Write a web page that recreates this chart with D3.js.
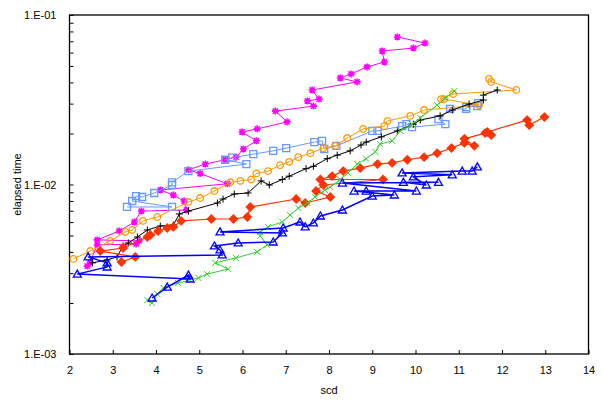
<!DOCTYPE html>
<html>
<head>
<meta charset="utf-8">
<script src="https://cdn.jsdelivr.net/npm/d3@7/dist/d3.min.js"></script>
<style>
    body { margin: 0; background: #fff; }
    text { font-family: Arial, "Liberation Sans", sans-serif; font-size: 11px; fill: #000; }
</style>
</head>
<body>
<svg id="chart" width="603" height="409"></svg>
<script>
// data: scd vs elapsed time, one pair of arrays per series
const magentaScd  = [9.58, 10.22, 9.95, 9.23, 9.28, 8.88, 8.51, 8.26, 8.65, 7.61, 7.77, 7.50, 7.64, 6.76, 7.03, 6.34, 5.99, 6.32, 6.02, 5.85, 5.60, 5.14, 4.75, 5.02, 5.65, 4.10, 4.40, 4.65, 4.70, 3.66, 3.50, 3.15, 2.64, 3.61, 3.54, 2.64, 2.48, 2.41];
const magentaTime = [0.0742, 0.0683, 0.0638, 0.0613, 0.0528, 0.0494, 0.0449, 0.0425, 0.0403, 0.0361, 0.0319, 0.0311, 0.0290, 0.0271, 0.0234, 0.0213, 0.0204, 0.0181, 0.0162, 0.0145, 0.0140, 0.0132, 0.0122, 0.0116, 0.0101, 0.00928, 0.00867, 0.00799, 0.00707, 0.00697, 0.00601, 0.00532, 0.00471, 0.00465, 0.00446, 0.00440, 0.00349, 0.00330];

const lightBlueScd  = [11.45, 11.43, 11.17, 11.17, 10.80, 10.53, 10.69, 9.92, 9.79, 9.69, 9.12, 9.00, 8.17, 7.89, 7.84, 7.66, 7.01, 6.71, 6.25, 5.76, 5.60, 6.09, 4.75, 4.37, 4.37, 3.96, 3.68, 3.54, 3.45, 4.37, 3.33];
const lightBlueTime = [0.0302, 0.0290, 0.0286, 0.0279, 0.0279, 0.0243, 0.0227, 0.0218, 0.0227, 0.0221, 0.0207, 0.0207, 0.0169, 0.0162, 0.0181, 0.0178, 0.0164, 0.0158, 0.0151, 0.0144, 0.0140, 0.0132, 0.0120, 0.0103, 0.00993, 0.00891, 0.00844, 0.00855, 0.00799, 0.00737, 0.00737];

const orangeScd  = [2.09, 2.48, 2.94, 3.29, 3.45, 3.70, 4.03, 4.75, 5.02, 5.35, 5.72, 5.95, 6.20, 6.32, 6.59, 6.87, 7.08, 7.29, 7.57, 7.87, 8.14, 8.42, 8.79, 9.28, 9.35, 9.88, 10.20, 11.47, 10.66, 10.59, 10.87, 12.33, 11.75, 11.70];
const orangeTime = [0.00364, 0.00405, 0.00465, 0.00525, 0.00539, 0.00610, 0.00643, 0.00788, 0.00832, 0.00915, 0.0103, 0.0105, 0.0107, 0.0116, 0.0120, 0.0130, 0.0136, 0.0145, 0.0153, 0.0164, 0.0169, 0.0188, 0.0213, 0.0221, 0.0237, 0.0254, 0.0275, 0.0294, 0.0319, 0.0319, 0.0342, 0.0361, 0.0403, 0.0420];

const blackScd  = [2.53, 2.87, 3.10, 3.24, 3.36, 3.57, 3.80, 4.10, 4.40, 4.54, 4.75, 5.42, 5.55, 5.81, 6.13, 6.43, 6.62, 6.92, 7.08, 7.47, 7.64, 7.96, 8.19, 8.49, 8.74, 8.86, 9.21, 9.58, 9.95, 10.11, 10.57, 10.85, 11.24, 11.57, 11.57, 11.89];
const blackTime = [0.00345, 0.00359, 0.00374, 0.00434, 0.00452, 0.00490, 0.00539, 0.00569, 0.00577, 0.00670, 0.00697, 0.00778, 0.00821, 0.00879, 0.00891, 0.0105, 0.00993, 0.0107, 0.0112, 0.0124, 0.0128, 0.0142, 0.0149, 0.0158, 0.0171, 0.0178, 0.0191, 0.0207, 0.0227, 0.0240, 0.0254, 0.0275, 0.0298, 0.0315, 0.0337, 0.0361];

const redScd  = [3.20, 3.52, 2.71, 3.24, 3.80, 3.87, 4.05, 4.26, 4.40, 4.58, 5.28, 5.79, 6.11, 6.18, 7.24, 7.45, 8.03, 7.70, 7.87, 9.25, 7.80, 8.07, 8.33, 8.72, 9.12, 9.46, 9.81, 10.20, 10.50, 10.83, 11.13, 11.36, 11.13, 11.61, 11.75, 11.66, 12.58, 12.63, 12.98];
const redTime = [0.00349, 0.00374, 0.00405, 0.00422, 0.00490, 0.00504, 0.00532, 0.00554, 0.00562, 0.00610, 0.00626, 0.00626, 0.00643, 0.00737, 0.00821, 0.00778, 0.00844, 0.00915, 0.00993, 0.0107, 0.0107, 0.0112, 0.0120, 0.0125, 0.0132, 0.0134, 0.0140, 0.0145, 0.0153, 0.0164, 0.0176, 0.0169, 0.0186, 0.0201, 0.0196, 0.0204, 0.0240, 0.0224, 0.0250];

const greenScd  = [3.80, 3.91, 4.03, 4.17, 4.51, 4.98, 5.18, 5.67, 5.37, 5.85, 6.34, 6.57, 6.41, 6.41, 6.59, 6.92, 7.10, 7.29, 7.50, 7.68, 7.91, 8.03, 8.26, 8.44, 8.65, 8.86, 9.07, 9.18, 9.46, 9.65, 9.92, 10.11, 10.50, 10.69, 10.90];
const greenTime = [0.00208, 0.00200, 0.00226, 0.00246, 0.00262, 0.00281, 0.00296, 0.00317, 0.00345, 0.00369, 0.00400, 0.00440, 0.00497, 0.00525, 0.00562, 0.00601, 0.00661, 0.00727, 0.00778, 0.00844, 0.00928, 0.00966, 0.0107, 0.0117, 0.0132, 0.0142, 0.0156, 0.0173, 0.0181, 0.0207, 0.0227, 0.0247, 0.0294, 0.0324, 0.0356];

const blueScd  = [3.91, 4.26, 4.75, 4.79, 2.18, 2.87, 2.87, 2.43, 5.53, 5.48, 5.35, 5.90, 6.71, 6.92, 5.48, 6.94, 7.33, 7.45, 7.64, 7.80, 8.31, 9.00, 9.51, 8.58, 8.86, 10.02, 8.31, 10.53, 9.72, 10.25, 9.95, 10.85, 9.69, 11.08, 11.31, 11.43];
const blueTime = [0.00214, 0.00248, 0.00292, 0.00277, 0.00296, 0.00326, 0.00345, 0.00374, 0.00384, 0.00411, 0.00434, 0.00452, 0.00458, 0.00518, 0.00525, 0.00554, 0.00601, 0.00562, 0.00593, 0.00652, 0.00707, 0.00855, 0.00867, 0.00915, 0.00915, 0.00915, 0.0102, 0.0103, 0.0103, 0.00993, 0.0111, 0.0114, 0.0117, 0.0120, 0.0120, 0.0127];

const xTicks = [2, 3, 4, 5, 6, 7, 8, 9, 10, 11, 12, 13, 14];
const yMajor = [0.1, 0.01, 0.001];
const yLabels = ['1.E-01', '1.E-02', '1.E-03'];

const series = [
    { scd: magentaScd,   time: magentaTime,   color: '#ff00ff', marker: 'star',     lw: 1 },
    { scd: lightBlueScd, time: lightBlueTime, color: '#6699ff', marker: 'square',   lw: 1 },
    { scd: orangeScd,    time: orangeTime,    color: '#ff9900', marker: 'circle',   lw: 1 },
    { scd: blackScd,     time: blackTime,     color: '#000000', marker: 'plus',     lw: 1 },
    { scd: redScd,       time: redTime,       color: '#ff3300', marker: 'diamond',  lw: 1.2 },
    { scd: greenScd,     time: greenTime,     color: '#33cc33', marker: 'cross',    lw: 1 },
    { scd: blueScd,      time: blueTime,      color: '#0000ff', marker: 'triangle', lw: 1.5 }
];

const svg = d3.select('#chart');
const plotLeft = 69.5, plotRight = 588.5, plotTop = 15, plotBottom = 354;

const x = d3.scaleLinear().domain([2, 14]).range([plotLeft, plotRight]);
const y = d3.scaleLog().domain([0.001, 0.1]).range([plotBottom, plotTop]);

// minor ticks for log axis (2..9 of each decade)
const yMinor = [];
[0.001, 0.01].forEach(b => { for (let k = 2; k <= 9; k++) yMinor.push(b * k); });

// axes
svg.append('g')
    .attr('transform', 'translate(0,' + plotBottom + ')')
    .call(d3.axisBottom(x).tickValues(xTicks).tickSizeInner(-4).tickSizeOuter(0).tickPadding(12).tickFormat(d3.format('d')))
    .call(g => g.select('.domain').remove());

svg.append('g')
    .attr('transform', 'translate(' + plotLeft + ',0)')
    .call(d3.axisLeft(y).tickValues(yMajor).tickSizeInner(-4).tickSizeOuter(0).tickPadding(13)
        .tickFormat((d, i) => yLabels[i]))
    .call(g => g.select('.domain').remove());

svg.append('g')
    .attr('transform', 'translate(' + plotLeft + ',0)')
    .call(d3.axisLeft(y).tickValues(yMinor).tickSizeInner(-4).tickSizeOuter(0).tickFormat(''))
    .call(g => g.select('.domain').remove());

svg.selectAll('.tick line').attr('stroke', '#000');
svg.selectAll('.tick text')
    .style('font-family', 'Arial, "Liberation Sans", sans-serif')
    .style('font-size', '11px');

// plot frame
svg.append('rect')
    .attr('x', plotLeft).attr('y', plotTop)
    .attr('width', plotRight - plotLeft).attr('height', plotBottom - plotTop)
    .attr('fill', 'none').attr('stroke', '#000').attr('stroke-width', 1.3);

// axis titles
svg.append('text')
    .attr('x', (plotLeft + plotRight) / 2).attr('y', 394)
    .attr('text-anchor', 'middle').text('scd');
svg.append('text')
    .attr('transform', 'translate(21,' + ((plotTop + plotBottom) / 2) + ') rotate(-90)')
    .attr('text-anchor', 'middle').text('elapsed time');

function markerPath(type) {
    switch (type) {
        case 'star':     return 'M-3.5,0H3.5M0,-3.5V3.5M-2.6,-2.6L2.6,2.6M-2.6,2.6L2.6,-2.6';
        case 'square':   return 'M-3.5,-3.5H3.5V3.5H-3.5Z';
        case 'circle':   return 'M3.3,0A3.3,3.3 0 1,1 -3.3,0A3.3,3.3 0 1,1 3.3,0Z';
        case 'plus':     return 'M-3.5,0H3.5M0,-3.5V3.5';
        case 'diamond':  return 'M0,-4L4,0L0,4L-4,0Z';
        case 'cross':    return 'M-3,-3L3,3M-3,3L3,-3';
        case 'triangle': return 'M0,-4L4,3H-4Z';
    }
}

const line = d3.line()
    .x(d => x(d[0]))
    .y(d => y(d[1]));

series.forEach(s => {
    const pts = s.scd.map((v, i) => [v, s.time[i]]);
    const g = svg.append('g');

    g.append('path')
        .datum(pts)
        .attr('d', line)
        .attr('fill', 'none')
        .attr('stroke', s.color)
        .attr('stroke-width', s.lw);

    const filled = s.marker === 'diamond';
    g.selectAll('.mk')
        .data(pts)
        .enter().append('path')
        .attr('class', 'mk')
        .attr('transform', d => 'translate(' + x(d[0]) + ',' + y(d[1]) + ')')
        .attr('d', markerPath(s.marker))
        .attr('fill', filled ? s.color : 'none')
        .attr('stroke', s.color)
        .attr('stroke-width', s.marker === 'star' ? 1.6 : (s.marker === 'plus' || s.marker === 'cross' ? 1 : 1.3));
});
</script>
</body>
</html>
